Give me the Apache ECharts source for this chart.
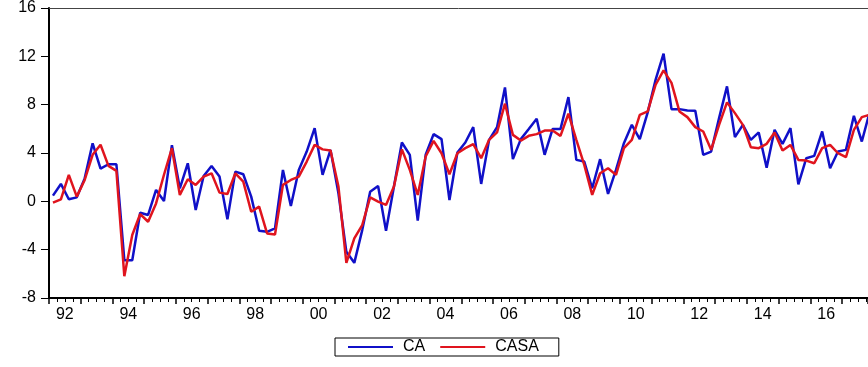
<!DOCTYPE html>
<html>
<head>
<meta charset="utf-8">
<script src="https://cdn.jsdelivr.net/npm/echarts@6/dist/echarts.min.js"></script>
<style>
  html, body { margin: 0; padding: 0; background: #fff; }
  #chart { width: 868px; height: 367px; }
</style>
</head>
<body>
<div id="chart"></div>
<script>
// quarterly data, 1992Q1 onwards
const startYear = 1992;
const tickLabels = ['92', '94', '96', '98', '00', '02', '04', '06', '08', '10', '12', '14', '16'];

const ca = [
  0.47, 1.44, 0.17, 0.33, 1.9, 4.8, 2.7, 3.07,
  3.07, -4.87, -4.87, -0.94, -1.13, 0.94, 0.03, 4.65,
  1.08, 3.15, -0.72, 2.1, 2.93, 2.05, -1.49, 2.46,
  2.24, 0.39, -2.43, -2.52, -2.24, 2.6, -0.39, 2.6,
  4.12, 6.06, 2.19, 4.26, 0.66, -4.18, -5.09, -2.38,
  0.8, 1.27, -2.43, 1.22, 4.87, 3.85, -1.6, 3.85,
  5.56, 5.15, 0.11, 4.04, 4.87, 6.14, 1.44, 5.09,
  6.14, 9.43, 3.49, 5.15, 5.98, 6.83, 3.85, 5.98,
  5.98, 8.63, 3.43, 3.29, 1.08, 3.49, 0.61, 2.6,
  4.81, 6.33, 5.15, 7.36, 10.07, 12.23, 7.63, 7.63,
  7.52, 7.5, 3.85, 4.12, 6.89, 9.51, 5.31, 6.33,
  5.09, 5.7, 2.79, 5.92, 4.76, 6.06, 1.4, 3.57,
  3.76, 5.78, 2.74, 4.12, 4.26, 7.08, 4.95, 7.4
];

const casa = [
  -0.11, 0.17, 2.19, 0.39, 1.77, 3.85, 4.68, 2.93,
  2.52, -6.2, -2.79, -1.05, -1.69, -0.17, 2.2, 4.4,
  0.53, 1.83, 1.36, 2.05, 2.32, 0.72, 0.61, 2.32,
  1.63, -0.86, -0.44, -2.66, -2.74, 1.36, 1.77, 2.05,
  3.29, 4.67, 4.3, 4.2, 1.22, -5.09, -3.07, -1.96,
  0.33, -0.03, -0.3, 1.22, 4.3, 2.6, 0.53, 3.71,
  5.0, 3.98, 2.24, 3.98, 4.4, 4.73, 3.57, 5.09,
  5.7, 8.08, 5.5, 5.03, 5.42, 5.56, 5.86, 5.86,
  5.42, 7.25, 5.09, 3.02, 0.53, 2.32, 2.74, 2.19,
  4.4, 5.09, 7.16, 7.44, 9.65, 10.84, 9.8, 7.44,
  6.97, 6.14, 5.78, 4.26, 6.33, 8.19, 7.3, 6.33,
  4.48, 4.4, 4.76, 5.7, 4.2, 4.67, 3.43, 3.37,
  3.15, 4.4, 4.67, 3.98, 3.65, 5.92, 6.97, 7.16
];

const chart = echarts.init(document.getElementById('chart'));

// x is the quarter index; the plot is cut off at the right edge
const xMin = -0.5;
const xMax = 102.78;
const labelPos = tickLabels.map((_, k) => 1.5 + 8 * k);

const font = 'Liberation Sans, Arial, sans-serif';
const axisLine = { show: true, onZero: false, lineStyle: { color: '#000', width: 2 } };

chart.setOption({
  animation: false,
  grid: { left: 49, top: 7, width: 819, height: 291 },
  legend: {
    data: ['CA', 'CASA'],
    left: 335,
    top: 338,
    orient: 'horizontal',
    itemWidth: 45,
    itemHeight: 12,
    itemGap: 15,
    padding: [1, 20, 1, 13],
    borderColor: '#000',
    borderWidth: 1,
    borderRadius: 0,
    icon: 'path://M0,5 L45,5 L45,7 L0,7 Z',
    textStyle: { fontFamily: font, fontSize: 16, color: '#000', padding: [0, 10, 0, 5] }
  },
  xAxis: [
    {
      // labels, centred on each second year
      type: 'value', min: xMin, max: xMax,
      axisLine: axisLine,
      axisTick: { show: false },
      axisLabel: {
        customValues: labelPos, margin: 9,
        fontFamily: font, fontSize: 16, color: '#000',
        formatter: (v) => tickLabels[labelPos.indexOf(v)] || ''
      },
      splitLine: { show: false }
    },
    {
      // year ticks with quarterly minor ticks
      type: 'value', min: xMin, max: xMax, interval: 4, position: 'bottom',
      axisLine: axisLine,
      axisTick: { show: true, length: 6, lineStyle: { color: '#000', width: 1.5 } },
      minorTick: { show: true, splitNumber: 4, length: 4, lineStyle: { color: '#000', width: 1 } },
      axisLabel: { show: false },
      splitLine: { show: false }
    },
    {
      type: 'value', min: xMin, max: xMax, position: 'top',
      axisLine: { show: true, onZero: false, lineStyle: { color: '#444', width: 1 } },
      axisTick: { show: false },
      axisLabel: { show: false },
      splitLine: { show: false }
    }
  ],
  yAxis: {
    type: 'value', min: -8, max: 16, interval: 4,
    axisLine: axisLine,
    axisTick: { show: true, length: 8, lineStyle: { color: '#000', width: 1 } },
    axisLabel: { margin: 13, fontFamily: font, fontSize: 16, color: '#000' },
    splitLine: { show: false }
  },
  series: [
    {
      name: 'CA', type: 'line', xAxisIndex: 0,
      data: ca.map((v, i) => [i, v]),
      showSymbol: false, symbol: 'none',
      lineStyle: { color: '#1010c8', width: 2.5 },
      itemStyle: { color: '#1010c8' }
    },
    {
      name: 'CASA', type: 'line', xAxisIndex: 0,
      data: casa.map((v, i) => [i, v]),
      showSymbol: false, symbol: 'none',
      lineStyle: { color: '#e0141e', width: 2.5 },
      itemStyle: { color: '#e0141e' }
    }
  ]
});
</script>
</body>
</html>
